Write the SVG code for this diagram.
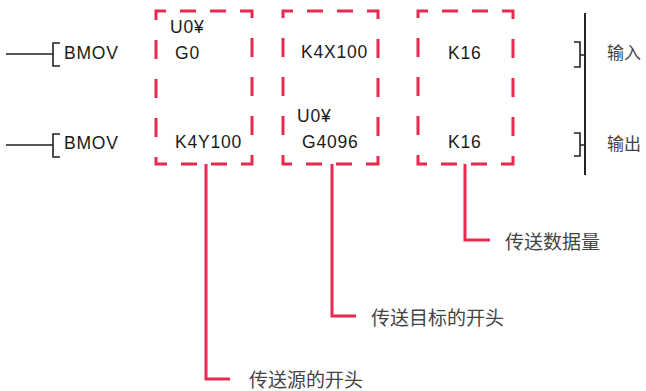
<svg xmlns="http://www.w3.org/2000/svg" width="646" height="391" viewBox="0 0 646 391">
<defs>
<style>
.lad{fill:none;stroke:#222;stroke-width:1.6}
.box{fill:none;stroke:#e8284d;stroke-width:3;stroke-dasharray:0 14 16 14 16 14 19 20 19 20 19 20 19 20 20 14 16 14 16 14 18 20 19 20 19 20 19 20 19}
.lead{fill:none;stroke:#e8284d;stroke-width:3}
.op{font-family:"Liberation Sans",Arial,sans-serif;font-size:17.5px;letter-spacing:0.8px;fill:#1a1a1a}
.cn{font-family:"Noto Sans CJK SC","Noto Sans",sans-serif;font-size:19px;fill:#444}
.cn2{font-family:"Noto Sans CJK SC","Noto Sans",sans-serif;font-size:17px;fill:#444}
</style>
</defs>
<rect width="646" height="391" fill="#fff"/>
<g id="ladder">
<path class="lad" d="M6,54 H53 M60,43 H53 V66 H60"/>
<path class="lad" d="M6,145 H53 M60,134 H53 V157 H60"/>
<path class="lad" d="M585,13 V175" style="stroke-width:2"/>
<path class="lad" d="M574,42 H580 V67 H574 M580,55 H585"/>
<path class="lad" d="M574,133 H580 V156 H574 M580,145 H585"/>
<text class="op" x="64" y="59">BMOV</text>
<text class="op" x="64" y="149">BMOV</text>
<text class="cn2" x="607" y="59">输入</text>
<text class="cn2" x="607" y="150">输出</text>
</g>
<g id="box1">
<path class="box" d="M166,11 H252 V164 H156 V11 H166"/>
<text class="op" x="170" y="33">U0¥</text>
<text class="op" x="175" y="59">G0</text>
<text class="op" x="175" y="148">K4Y100</text>
</g>
<g id="box2">
<path class="box" d="M293,11 H378 V164 H283 V11 H293"/>
<text class="op" x="301" y="58">K4X100</text>
<text class="op" x="297" y="122">U0¥</text>
<text class="op" x="302" y="148">G4096</text>
</g>
<g id="box3">
<path class="box" d="M428,11 H513 V164 H418 V11 H428"/>
<text class="op" x="448" y="59">K16</text>
<text class="op" x="448" y="148">K16</text>
</g>
<g id="connectors">
<path class="lead" d="M206,164 V379 H230"/>
<path class="lead" d="M332,164 V316 H356"/>
<path class="lead" d="M465,164 V240 H490"/>
</g>
<g id="label1"><text class="cn" x="249" y="387">传送源的开头</text></g>
<g id="label2"><text class="cn" x="371" y="325">传送目标的开头</text></g>
<g id="label3"><text class="cn" x="505" y="249">传送数据量</text></g>
</svg>
